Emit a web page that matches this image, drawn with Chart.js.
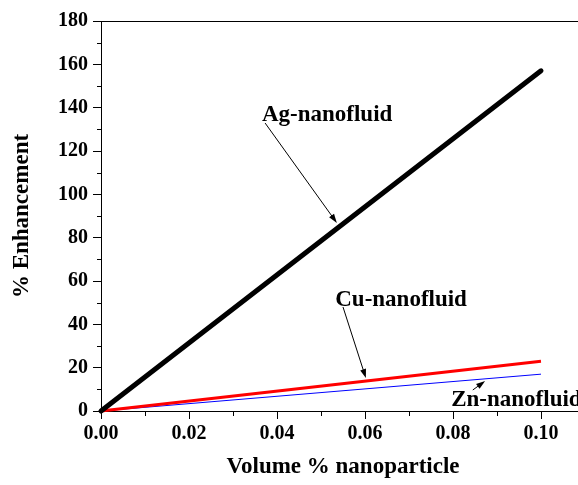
<!DOCTYPE html>
<html>
<head>
<meta charset="utf-8">
<script src="https://cdn.jsdelivr.net/npm/chart.js@4.4.0/dist/chart.umd.min.js"></script>
<style>
  html, body { margin: 0; padding: 0; background: #fff; overflow: hidden; }
  #wrap { width: 600px; height: 485px; }
</style>
</head>
<body>
<div id="wrap"><canvas id="myChart"></canvas></div>
<script>
// values
const volumeFraction = [0, 0.10];
const agEnhancement = [0, 157];
const cuEnhancement = [0, 23];
const znEnhancement = [0, 17];
const xTickValues = [0, 0.02, 0.04, 0.06, 0.08, 0.10];
const yTickValues = [0, 20, 40, 60, 80, 100, 120, 140, 160, 180];

// labels with their arrows, in data units
const notes = [
  { text: 'Ag-nanofluid', x: 0.0514, y: 136.6, align: 'center', from: [0.0373, 132.9], to: [0.0536, 86.8] },
  { text: 'Cu-nanofluid', x: 0.0682, y: 51.2, align: 'center', from: [0.0550, 48], to: [0.0602, 15.2] },
  { text: 'Zn-nanofluid', x: 0.0796, y: 5.1, align: 'left', from: [0.0845, 9.7], to: [0.0873, 13.8] }
];

const serif = "'Liberation Serif', 'Times New Roman', serif";

function pts(ys) {
  return volumeFraction.map((x, i) => ({ x: x, y: ys[i] }));
}

// frame, minor ticks, labels and arrows
const extras = {
  id: 'extras',
  afterDraw(chart) {
    const ctx = chart.ctx;
    const a = chart.chartArea;
    const xs = chart.scales.x, ys = chart.scales.y;
    ctx.save();
    ctx.strokeStyle = '#000';
    ctx.lineWidth = 1;
    ctx.beginPath();
    ctx.moveTo(a.left, a.top + 0.5);
    ctx.lineTo(a.right, a.top + 0.5);
    ctx.stroke();

    ctx.beginPath();
    for (let v = 10; v < 180; v += 20) {
      const py = Math.round(ys.getPixelForValue(v)) + 0.5;
      ctx.moveTo(a.left - 4, py);
      ctx.lineTo(a.left, py);
    }
    for (let v = 0.01; v < 0.11; v += 0.02) {
      const px = Math.round(xs.getPixelForValue(v)) + 0.5;
      ctx.moveTo(px, a.bottom);
      ctx.lineTo(px, a.bottom + 5);
    }
    ctx.stroke();

    ctx.fillStyle = '#000';
    ctx.font = 'bold 23px ' + serif;
    ctx.textBaseline = 'middle';
    notes.forEach(n => {
      ctx.textAlign = n.align;
      ctx.fillText(n.text, xs.getPixelForValue(n.x), ys.getPixelForValue(n.y));
      const x1 = xs.getPixelForValue(n.from[0]), y1 = ys.getPixelForValue(n.from[1]);
      const x2 = xs.getPixelForValue(n.to[0]), y2 = ys.getPixelForValue(n.to[1]);
      const ang = Math.atan2(y2 - y1, x2 - x1);
      ctx.beginPath();
      ctx.moveTo(x1, y1);
      ctx.lineTo(x2 - 6 * Math.cos(ang), y2 - 6 * Math.sin(ang));
      ctx.stroke();
      ctx.beginPath();
      ctx.moveTo(x2, y2);
      ctx.lineTo(x2 - 9 * Math.cos(ang) + 3 * Math.sin(ang), y2 - 9 * Math.sin(ang) - 3 * Math.cos(ang));
      ctx.lineTo(x2 - 9 * Math.cos(ang) - 3 * Math.sin(ang), y2 - 9 * Math.sin(ang) + 3 * Math.cos(ang));
      ctx.closePath();
      ctx.fill();
    });
    ctx.restore();
  }
};

var ctx = document.getElementById('myChart').getContext('2d');
var myChart = new Chart(ctx, {
  type: 'line',
  data: {
    datasets: [
      { label: 'Ag-nanofluid', data: pts(agEnhancement), borderColor: '#000', borderWidth: 5, borderCapStyle: 'round' },
      { label: 'Cu-nanofluid', data: pts(cuEnhancement), borderColor: '#ff0000', borderWidth: 3 },
      { label: 'Zn-nanofluid', data: pts(znEnhancement), borderColor: '#0000ff', borderWidth: 1 }
    ]
  },
  options: {
    responsive: true,
    maintainAspectRatio: false,
    animation: false,
    events: [],
    clip: false,
    elements: { point: { radius: 0 }, line: { tension: 0 } },
    layout: { padding: { top: 21, right: 15, left: 0, bottom: 0 } },
    plugins: { legend: { display: false }, tooltip: { enabled: false } },
    scales: {
      x: {
        type: 'linear',
        min: 0,
        max: 0.11,
        afterFit(s) { s.height = 74; },
        afterBuildTicks(s) { s.ticks = xTickValues.map(v => ({ value: v })); },
        grid: { drawOnChartArea: false, tickLength: 8, color: '#000', tickColor: '#000' },
        border: { color: '#000', width: 1 },
        ticks: {
          color: '#000', padding: 3, maxRotation: 0,
          font: { family: serif, size: 20, weight: 'bold' },
          callback: v => v.toFixed(2)
        },
        title: {
          display: true, text: 'Volume % nanoparticle', color: '#000',
          font: { family: serif, size: 23, weight: 'bold' },
          padding: { top: 0, bottom: 4 }
        }
      },
      y: {
        min: 0,
        max: 180,
        afterFit(s) { s.width = 101; },
        afterBuildTicks(s) { s.ticks = yTickValues.map(v => ({ value: v })); },
        grid: { drawOnChartArea: false, tickLength: 8, color: '#000', tickColor: '#000' },
        border: { color: '#000', width: 1 },
        ticks: {
          color: '#000', padding: 5,
          font: { family: serif, size: 20, weight: 'bold' }
        },
        title: {
          display: true, text: '% Enhancement', color: '#000',
          font: { family: serif, size: 23, weight: 'bold' },
          padding: { top: 8, bottom: 0 }
        }
      }
    }
  },
  plugins: [extras]
});
</script>
</body>
</html>
